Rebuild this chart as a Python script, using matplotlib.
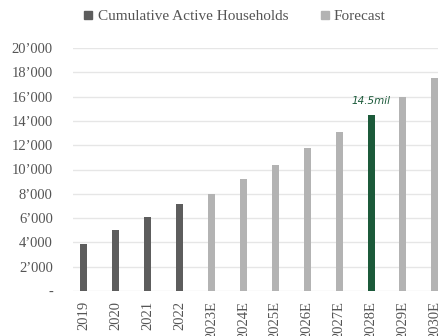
import matplotlib
matplotlib.use("Agg")
import matplotlib.pyplot as plt
from matplotlib.lines import Line2D
from matplotlib.ticker import FuncFormatter

years = ["2019", "2020", "2021", "2022", "2023E", "2024E", "2025E",
         "2026E", "2027E", "2028E", "2029E", "2030E"]
households = [3900, 5000, 6100, 7150, 8000, 9200, 10400, 11800, 13100, 14500, 16000, 17500]
is_forecast = [False, False, False, False, True, True, True, True, True, True, True, True]
highlight_year = "2028E"
highlight_label = "14.5mil"

DARK = "#5d5d5d"
LIGHT = "#b3b3b3"
GREEN = "#1c5a3a"
TEXT = "#555555"

plt.rcParams["font.family"] = ["Liberation Serif", "DejaVu Serif"]

fig = plt.figure(figsize=(4.39, 3.36), dpi=100)
ax = fig.add_axes([73 / 439, (336 - 291) / 336, (439 - 73) / 439, (291 - 48) / 336])

x = list(range(len(years)))
colors = []
for y, f in zip(years, is_forecast):
    if y == highlight_year:
        colors.append(GREEN)
    else:
        colors.append(LIGHT if f else DARK)
ax.bar(x, households, width=0.22, color=colors, zorder=3)

ax.set_ylim(0, 20000)
ax.set_xlim(-0.34, 11.13)
ax.set_yticks(range(0, 20001, 2000))


def fmt(v, _):
    if v == 0:
        return "-"
    return f"{int(v):,}".replace(",", "\u2019")


ax.yaxis.set_major_formatter(FuncFormatter(fmt))
ax.set_xticks(x)
ax.set_xticklabels(years, rotation=90, va="top")
ax.tick_params(axis="both", length=0, labelsize=10.5, labelcolor=TEXT)
ax.tick_params(axis="y", pad=14.5)
ax.tick_params(axis="x", pad=7)
ax.grid(axis="y", color="#e6e6e6", linewidth=1, zorder=0)
for s in ax.spines.values():
    s.set_visible(False)

hi = years.index(highlight_year)
ax.text(hi, households[hi] + 700, highlight_label, color=GREEN, ha="center",
        va="bottom", fontsize=7.5, fontstyle="italic", family="DejaVu Sans")

handles = [Line2D([], [], marker="s", linestyle="none", color=DARK, markersize=6),
           Line2D([], [], marker="s", linestyle="none", color=LIGHT, markersize=6)]
fig.legend(handles, ["Cumulative Active Households", "Forecast"], loc="center",
           bbox_to_anchor=(0.533, 0.952), ncol=2, frameon=False, fontsize=11,
           labelcolor=TEXT, handletextpad=0.2, columnspacing=2.0, handlelength=0.8)

fig.savefig("out.png", dpi=100)
